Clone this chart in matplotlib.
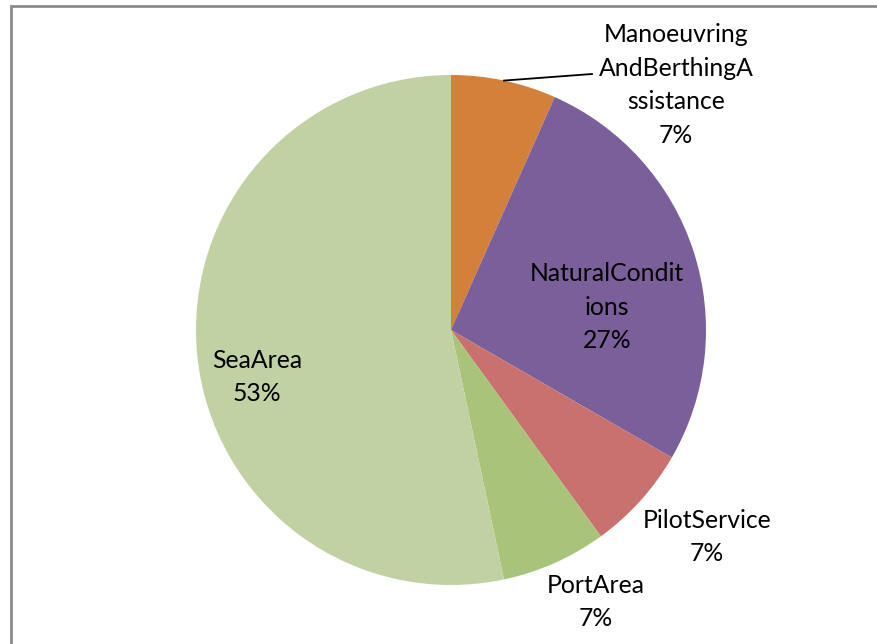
import matplotlib
matplotlib.use('Agg')
import numpy as np
import matplotlib.pyplot as plt

# counts per category, clockwise from 12 o'clock
categories = ['ManoeuvringAndBerthingAssistance', 'NaturalConditions',
              'PilotService', 'PortArea', 'SeaArea']
counts = [1, 4, 1, 1, 8]
# label text as wrapped in the chart
label_lines = ['Manoeuvring\nAndBerthingA\nssistance', 'NaturalCondit\nions',
               'PilotService', 'PortArea', 'SeaArea']

colors = ['#D2803A', '#7B5F9B', '#C8716E', '#A9C47A', '#C1D1A3']

W, H = 877, 644
cx, cy, R = 451, H - 330, 255
# label centres in pixels (x, y from top)
label_pos = [(676, 85), (607, 307), (707, 537), (596, 602), (257, 377)]

plt.rcParams['font.family'] = ['Lato', 'DejaVu Sans']

fig = plt.figure(figsize=(W / 100, H / 100), dpi=100)
ax = fig.add_axes([0, 0, 1, 1])

wedges, _ = ax.pie(counts, colors=colors, startangle=90, counterclock=False,
                   center=(cx, cy), radius=R, frame=True,
                   wedgeprops=dict(linewidth=0))
ax.set_xlim(0, W)
ax.set_ylim(0, H)
ax.set_aspect('equal')
ax.axis('off')

total = sum(counts)
for i, (txt, c) in enumerate(zip(label_lines, counts)):
    pct = '%d%%' % round(100.0 * c / total)
    x, y = label_pos[i]
    ax.text(x, H - y, txt + '\n' + pct, ha='center', va='center',
            fontsize=17.8, linespacing=1.55, color='black')

# leader line for the small top slice
w0 = wedges[0]
mid = np.deg2rad((w0.theta1 + w0.theta2) / 2)
ax.plot([cx + R * np.cos(mid), 592], [cy + R * np.sin(mid), H - 74],
        color='black', lw=1.3)

# chart area border
ax.plot([11, 11, W + 5], [-5, H - 5.5, H - 5.5], color='#8c8c8c', lw=2,
        solid_joinstyle='miter')

fig.savefig('out.png', dpi=100)
